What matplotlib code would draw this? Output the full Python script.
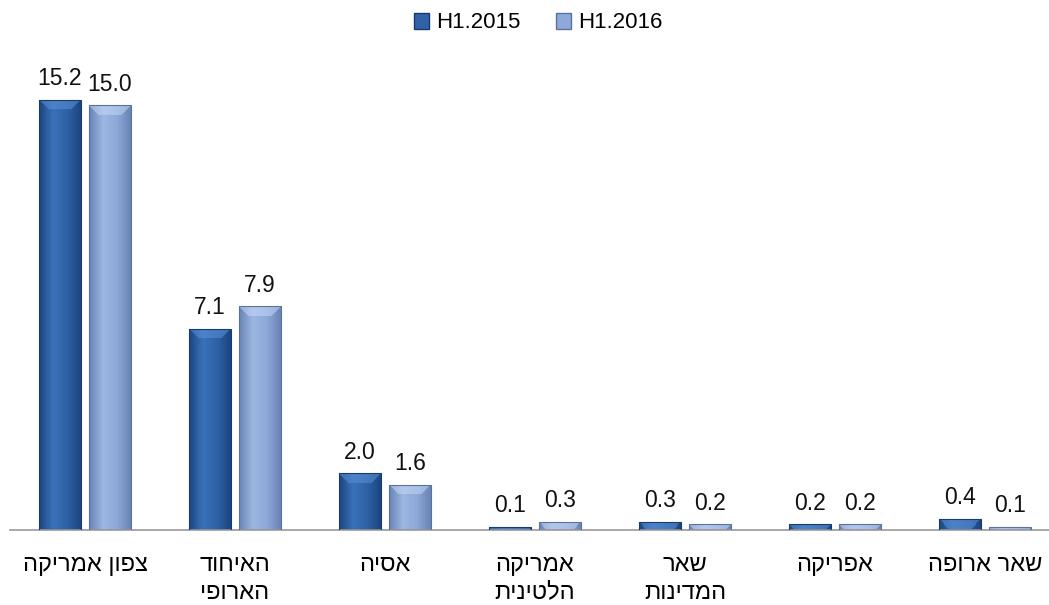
import matplotlib
matplotlib.use("Agg")
import matplotlib.pyplot as plt
import numpy as np
from matplotlib.colors import LinearSegmentedColormap, to_rgb
from matplotlib.patches import Patch

plt.rcParams['font.family'] = ['Liberation Sans', 'DejaVu Sans']

# categories (logical Hebrew order, reversed for display below)
categories = ['צפון אמריקה', 'האיחוד\nהארופי', 'אסיה', 'אמריקה\nהלטינית',
              'שאר\nהמדינות', 'אפריקה', 'שאר ארופה']
h1_2015 = [15.2, 7.1, 2.0, 0.1, 0.3, 0.2, 0.4]
h1_2016 = [15.0, 7.9, 1.6, 0.3, 0.2, 0.2, 0.1]
series_names = ['H1.2015', 'H1.2016']

PX_PER_UNIT = 470 / 16.6


def rtl(s):
    # matplotlib has no bidi support, flip each line for display
    return '\n'.join(line[::-1] for line in s.split('\n'))


def bar_image(h, cmap, top):
    # horizontal shading plus a lighter bevelled top
    nx = 42
    ny = max(int(round(h * PX_PER_UNIT)), 1)
    row = cmap(np.linspace(0, 1, nx))[:, :3]
    img = np.repeat(row[None, :, :], ny, axis=0)
    top = np.array(to_rgb(top))
    for r in range(min(10, ny)):
        lo, hi = r, nx - r
        img[r, lo:hi] = 0.45 * img[r, lo:hi] + 0.55 * top
    return img


fig = plt.figure(figsize=(10.49, 6.05), dpi=100)
ax = fig.add_axes([10 / 1049, 75 / 605, 1039 / 1049, 470 / 605])

x = np.arange(len(categories))
w = 0.28
off = 0.167

cmap_dark = LinearSegmentedColormap.from_list('d', ['#1c4680', '#3a72ba', '#2f62a6', '#1c4680'])
cmap_light = LinearSegmentedColormap.from_list('l', ['#6a84b6', '#9db7e2', '#8ea8d8', '#6a84b6'])

for vals, pos, cmap, edge, top in [(h1_2015, x - off, cmap_dark, '#173b6c', '#5a8fd6'),
                                   (h1_2016, x + off, cmap_light, '#5a72a0', '#c4d6f4')]:
    bars = ax.bar(pos, vals, width=w, color='none', edgecolor=edge, linewidth=0.8, zorder=3)
    for b, v in zip(bars, vals):
        bx, by = b.get_x(), b.get_y()
        im = ax.imshow(bar_image(v, cmap, top), aspect='auto', zorder=2,
                       interpolation='nearest',
                       extent=[bx, bx + b.get_width(), by, by + b.get_height()])
        im.set_clip_path(b)
        ax.annotate(f'{v:.1f}', (bx + b.get_width() / 2, v), xytext=(0, 7),
                    textcoords='offset points', ha='center', va='bottom',
                    fontsize=16.5, color='#111111')

ax.set_xlim(-0.5, 6.427)
ax.set_ylim(0, 16.6)
ax.set_yticks([])
ax.set_xticks(x)
ax.set_xticklabels([rtl(c) for c in categories], fontsize=17, va='top', linespacing=1.35)
ax.tick_params(axis='x', length=0, pad=17)
for s in ['top', 'right', 'left']:
    ax.spines[s].set_visible(False)
ax.spines['bottom'].set_color('#999999')
ax.spines['bottom'].set_linewidth(1.2)

handles = [Patch(facecolor='#2f62a6', edgecolor='#173b6c'),
           Patch(facecolor='#8ea8d8', edgecolor='#5a72a0')]
fig.legend(handles, series_names, loc='center', bbox_to_anchor=(538 / 1049, 1 - 23 / 605),
           ncol=2, frameon=False, fontsize=16, handlelength=0.7, handleheight=0.7,
           handletextpad=0.3, columnspacing=1.6)

fig.savefig('out.png', dpi=100)
